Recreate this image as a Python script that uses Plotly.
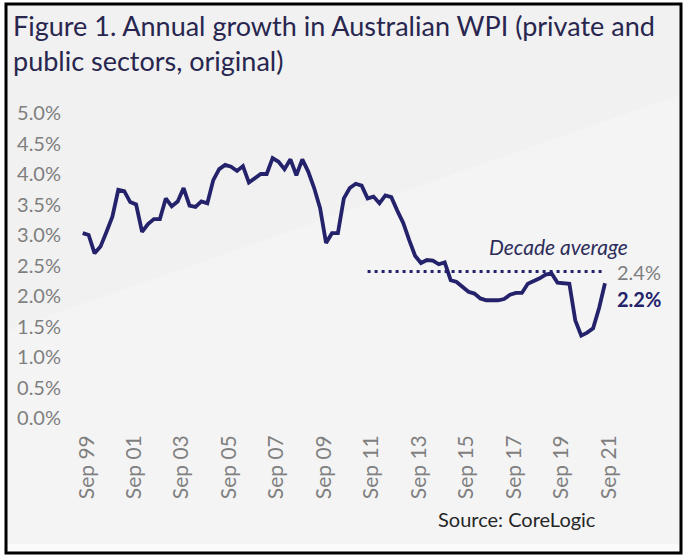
import plotly.graph_objects as go

# ---- data (annual % growth, quarterly, Sep 1999 - Sep 2021) ----
months = ["Sep", "Dec", "Mar", "Jun"]
quarters = []
for yr in range(1999, 2022):
    for m in months:
        y = yr if m in ("Sep", "Dec") else yr + 1
        quarters.append(f"{m} {str(y)[-2:]}")
quarters = quarters[:89]

wpi_growth = [
    3.03, 3.00, 2.70, 2.81, 3.05, 3.30, 3.74, 3.72, 3.54, 3.50,
    3.05, 3.18, 3.26, 3.26, 3.60, 3.47, 3.55, 3.77, 3.48, 3.46,
    3.55, 3.52, 3.90, 4.08, 4.15, 4.12, 4.05, 4.13, 3.86, 3.93,
    4.00, 4.00, 4.26, 4.20, 4.08, 4.24, 3.98, 4.24, 4.04, 3.77,
    3.44, 2.87, 3.03, 3.03, 3.60, 3.77, 3.84, 3.81, 3.60, 3.63,
    3.52, 3.65, 3.62, 3.40, 3.20, 2.92, 2.66, 2.54, 2.59, 2.58,
    2.52, 2.55, 2.26, 2.23, 2.15, 2.07, 2.04, 1.96, 1.93, 1.93,
    1.93, 1.95, 2.02, 2.05, 2.05, 2.20, 2.24, 2.29, 2.35, 2.37,
    2.22, 2.21, 2.20, 1.60, 1.35, 1.40, 1.47, 1.80, 2.21,
]

tick_labels = ["Sep 99", "Sep 01", "Sep 03", "Sep 05", "Sep 07", "Sep 09",
               "Sep 11", "Sep 13", "Sep 15", "Sep 17", "Sep 19", "Sep 21"]
y_ticks = [0.0, 0.5, 1.0, 1.5, 2.0, 2.5, 3.0, 3.5, 4.0, 4.5, 5.0]

decade_start = "Sep 11"
decade_end = "Sep 21"
decade_average = 2.4
latest_value = wpi_growth[-1]

# ---- layout geometry ----
W, H = 686, 560
L, R, T, B = 65, 11, 113, 142
PW, PH = W - L - R, H - T - B

def px(x):
    return (x - L) / PW

def py(y):
    return (H - B - y) / PH

NAVY = "#24226a"
GREY = "#7f7f7f"

fig = go.Figure()

fig.add_trace(go.Scatter(
    x=quarters, y=wpi_growth, mode="lines",
    line=dict(color=NAVY, width=3.8), hoverinfo="skip", showlegend=False,
))

i0, i1 = quarters.index(decade_start), quarters.index(decade_end)
fig.add_trace(go.Scatter(
    x=quarters[i0:i1 + 1], y=[decade_average] * (i1 - i0 + 1), mode="lines",
    line=dict(color=NAVY, width=3, dash="3px,4px"), hoverinfo="skip", showlegend=False,
))

shapes = [
    dict(type="rect", xref="paper", yref="paper",
         x0=px(6), x1=px(681), y0=py(553), y1=py(4),
         fillcolor="#f1f1f1", line=dict(color="black", width=3), layer="below"),
    dict(type="path", xref="paper", yref="paper", layer="below",
         path=f"M {px(8)} {py(330)} L {px(679)} {py(95)} L {px(679)} {py(545)} L {px(8)} {py(545)} Z",
         fillcolor="#f4f4f5", line=dict(width=0)),
    dict(type="rect", xref="paper", yref="paper", layer="below",
         x0=px(8), x1=px(679), y0=py(551), y1=py(544),
         fillcolor="#fbfbfb", line=dict(width=0)),
]

annotations = [
    dict(text="Figure 1. Annual growth in Australian WPI (private and<br>public sectors, original)",
         xref="paper", yref="paper", x=px(11), y=py(7), xanchor="left", yanchor="top",
         align="left", showarrow=False,
         font=dict(family="Lato", size=27, color="#28264f")),
    dict(text="<i>Decade average</i>", xref="paper", yref="paper",
         x=px(558), y=py(246), xanchor="center", yanchor="middle", showarrow=False,
         font=dict(family="Lato", size=21, color="#2e2d5a")),
    dict(text=f"{decade_average:.1f}%", xref="paper", yref="y",
         x=px(615), y=decade_average, xanchor="left", yanchor="middle", showarrow=False,
         font=dict(family="Lato", size=20, color=GREY)),
    dict(text=f"<b>{latest_value:.1f}%</b>", xref="paper", yref="y",
         x=px(615), y=decade_average, yshift=-27, xanchor="left", yanchor="middle",
         showarrow=False, font=dict(family="Lato", size=20, color=NAVY)),
    dict(text="Source: CoreLogic", xref="paper", yref="paper",
         x=px(436), y=py(519), xanchor="left", yanchor="middle", showarrow=False,
         font=dict(family="Lato", size=20, color="#262626")),
]

x_r0 = -(82.7 - L) / 5.935
fig.update_layout(
    width=W, height=H,
    margin=dict(l=L, r=R, t=T, b=B, pad=0),
    paper_bgcolor="white", plot_bgcolor="rgba(0,0,0,0)",
    shapes=shapes, annotations=annotations,
    xaxis=dict(type="category", categoryorder="array", categoryarray=quarters,
               range=[x_r0, x_r0 + PW / 5.935],
               tickmode="array", tickvals=tick_labels, ticktext=tick_labels,
               tickangle=-90, showgrid=False, zeroline=False, showline=False,
               ticks="", ticklabelstandoff=12, ticklabelshift=4,
               tickfont=dict(family="Lato", size=21, color=GREY)),
    yaxis=dict(range=[0, 5], tickmode="array", tickvals=y_ticks,
               ticktext=[f"{v:.1f}%" for v in y_ticks],
               showgrid=False, zeroline=False, showline=False, ticks="",
               ticklabelstandoff=3,
               tickfont=dict(family="Lato", size=20, color=GREY)),
)

fig.write_html("out.html", config={"displayModeBar": False},
               post_script="document.body.style.margin='0';document.body.style.overflow='hidden';")
